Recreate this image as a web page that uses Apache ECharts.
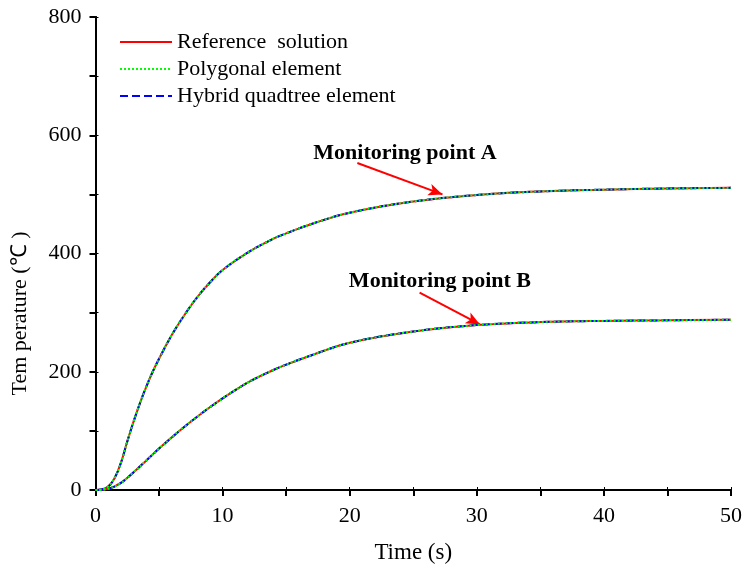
<!DOCTYPE html>
<html>
<head>
    <meta charset="utf-8">
    <title>Temperature</title>
    <script src="https://cdn.jsdelivr.net/npm/echarts@6/dist/echarts.min.js"></script>
    <style>
        html, body { margin: 0; padding: 0; background: #fff; }
        #chart { width: 746px; height: 574px; }
    </style>
</head>
<body>
<div id="chart"></div>
<script type="text/javascript">
    // 数据
    var timeA = [0, 0.5, 1, 1.5, 2, 2.5, 3, 3.5, 4, 4.5, 5, 6, 7, 8, 9, 10, 12, 14, 15, 17, 20, 25, 30, 35, 40, 45, 50];
    var tempA = [0, 1, 6, 20, 46, 82, 116, 147, 175, 200, 222, 262, 296, 326, 351, 372, 402, 425, 434, 450, 469, 488, 499, 505, 508, 510, 511];
    var timeB = [0, 1, 2, 3, 4, 5, 6, 7, 8, 9, 10, 11, 12, 13, 14, 15, 17, 20, 25, 30, 35, 40, 45, 50];
    var tempB = [0, 2, 12, 30, 50, 70, 89, 107, 124, 140, 155, 169, 182, 193, 203, 212, 228, 249, 268, 279, 284, 286, 287, 288];
    var seriesNames = ['Reference  solution', 'Polygonal element', 'Hybrid quadtree element'];
    var seriesColors = ['#ff0000', '#00ff00', '#0000ff'];
    var seriesTypes = ['solid', 'dotted', 'dashed'];
    var xTicks = [0, 10, 20, 30, 40, 50];
    var yTicks = [0, 200, 400, 600, 800];

    // annotations: label position, arrow start, arrow end (data coords)
    var noteTextA = [24.35, 569];
    var noteArrowA = [[20.6, 553], [27.3, 500]];
    var noteTextB = [27.1, 353];
    var noteArrowB = [[25.5, 334], [30.25, 280]];

    var font = '"Liberation Serif", "Times New Roman", serif';

    function pairs(xs, ys) {
        var out = [];
        for (var i = 0; i < xs.length; i++) out.push([xs[i], ys[i]]);
        return out;
    }

    var dataA = pairs(timeA, tempA);
    var dataB = pairs(timeB, tempB);

    // draw order: red, blue, green on top
    var order = [0, 2, 1];
    var series = [];
    order.forEach(function (k) {
        [dataA, dataB].forEach(function (d) {
            series.push({
                name: seriesNames[k],
                type: 'line',
                data: d,
                smooth: 0.4,
                symbol: 'none',
                silent: true,
                z: 2 + series.length,
                lineStyle: { color: seriesColors[k], width: 2, type: seriesTypes[k] },
                itemStyle: { color: seriesColors[k] }
            });
        });
    });

    function note(text, pos, arrow) {
        return {
            name: 'note',
            type: 'line',
            data: [],
            symbol: 'none',
            z: 20,
            markPoint: {
                symbol: 'circle',
                symbolSize: 0,
                data: [{ coord: pos, value: text }],
                label: {
                    show: true, position: 'inside', formatter: text,
                    fontFamily: font, fontSize: 22, fontWeight: 'bold', color: '#000'
                }
            },
            markLine: {
                silent: true,
                symbol: ['none', 'arrow'],
                symbolSize: [9, 14],
                label: { show: false },
                lineStyle: { color: '#ff0000', width: 2, type: 'solid' },
                data: [[{ coord: arrow[0] }, { coord: arrow[1] }]]
            }
        };
    }
    series.push(note('Monitoring point A', noteTextA, noteArrowA));
    series.push(note('Monitoring point B', noteTextB, noteArrowB));

    var axisLine = { show: true, lineStyle: { color: '#000', width: 2 } };
    var labelStyle = { fontFamily: font, fontSize: 22, color: '#000' };

    var option = {
        animation: false,
        backgroundColor: '#fff',
        grid: { left: 95.5, right: 15, top: 17, bottom: 84, containLabel: false },
        legend: {
            data: seriesNames,
            orient: 'vertical',
            left: 114,
            top: 26,
            itemGap: 5,
            itemWidth: 52,
            itemHeight: 14,
            itemStyle: { opacity: 0 },
            textStyle: { fontFamily: font, fontSize: 22, lineHeight: 20, color: '#000', padding: [0, 0, 0, 0] }
        },
        xAxis: [{
            type: 'value', min: 0, max: 50, interval: 10,
            name: 'Time (s)', nameLocation: 'middle', nameGap: 51,
            nameTextStyle: { fontFamily: font, fontSize: 23, color: '#000' },
            axisLine: axisLine,
            axisTick: { show: true, inside: false, length: 6, lineStyle: { color: '#000', width: 2 } },
            minorTick: { show: true, splitNumber: 2, length: 6, lineStyle: { color: '#000', width: 2 } },
            axisLabel: Object.assign({ margin: 15, formatter: function (v) { return xTicks.indexOf(v) >= 0 ? v : ''; } }, labelStyle),
            splitLine: { show: false }
        }, {
            type: 'value', position: 'top', min: 0, max: 50, interval: 10,
            axisLine: axisLine,
            axisTick: { show: true, inside: false, length: 3, lineStyle: { color: '#000', width: 1 } },
            minorTick: { show: true, splitNumber: 2, length: 3, lineStyle: { color: '#000', width: 1 } },
            axisLabel: { show: false },
            splitLine: { show: false }
        }],
        yAxis: [{
            type: 'value', min: 0, max: 800, interval: 200,
            name: 'Tem perature (\u2103 )', nameLocation: 'middle', nameGap: 64,
            nameTextStyle: { fontFamily: font, fontSize: 22, color: '#000', padding: [0, 120, 0, 0] },
            axisLine: axisLine,
            axisTick: { show: true, inside: false, length: 6, lineStyle: { color: '#000', width: 2 } },
            minorTick: { show: true, splitNumber: 2, length: 6, lineStyle: { color: '#000', width: 2 } },
            axisLabel: Object.assign({ margin: 14, formatter: function (v) { return yTicks.indexOf(v) >= 0 ? v : ''; } }, labelStyle),
            splitLine: { show: false }
        }, {
            type: 'value', position: 'right', min: 0, max: 800, interval: 200,
            axisLine: axisLine,
            axisTick: { show: true, inside: false, length: 3, lineStyle: { color: '#000', width: 1 } },
            minorTick: { show: true, splitNumber: 2, length: 3, lineStyle: { color: '#000', width: 1 } },
            axisLabel: { show: false },
            splitLine: { show: false }
        }],
        series: series
    };

    var myChart = echarts.init(document.getElementById('chart'));
    myChart.setOption(option);
</script>
</body>
</html>
